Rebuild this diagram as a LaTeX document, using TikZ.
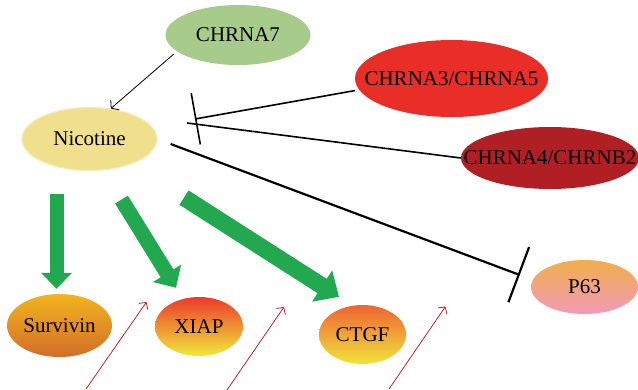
\documentclass[tikz,border=0pt]{standalone}
\usepackage{fontspec}
\setmainfont{Liberation Serif}
\usetikzlibrary{shapes.geometric, arrows.meta}
\definecolor{c7}{HTML}{A6CB8B}
\definecolor{cnic}{HTML}{F0DF8C}
\definecolor{c35}{HTML}{E92D27}
\definecolor{c4b2}{HTML}{B01F24}
\definecolor{cgrow}{HTML}{22A84F}
\definecolor{cred}{HTML}{B5252D}
\definecolor{survtop}{HTML}{F2B41F}
\definecolor{survbot}{HTML}{D26E28}
\definecolor{xtop}{HTML}{EC3A2A}
\definecolor{xmid}{HTML}{F29A30}
\definecolor{xbot}{HTML}{F2E83A}
\definecolor{ctop}{HTML}{EE6432}
\definecolor{cmid}{HTML}{F0DA3A}
\definecolor{cbot}{HTML}{F0E43C}
\definecolor{ptop}{HTML}{F0AE4C}
\definecolor{pbot}{HTML}{F29AB6}
\newcommand{\gname}[1]{\makebox[0pt]{#1}}
\tikzstyle{gene} = [ellipse, inner sep=0pt, text=black, font=\fontsize{21pt}{25pt}\selectfont]
\tikzstyle{actarrow} = [line width=0.8pt, -{Straight Barb[length=5pt,width=13pt]}]
\tikzstyle{inhibit} = [line width=1.6pt]
\tikzstyle{upreg} = [cgrow, line width=15pt, -{Triangle[width=32pt,length=17pt]}]
\tikzstyle{redarrow} = [cred, line width=0.8pt, -{Straight Barb[length=5pt,width=11pt]}]

\begin{document}
\begin{tikzpicture}[x=1pt, y=-1pt]
        \useasboundingbox (0,0) rectangle (638,389);
        \node (chrna7) [gene, fill=c7, minimum width=145pt, minimum height=60pt] at (238,35) {\gname{CHRNA7}};
        \node (nic) [gene, fill=cnic, draw=cnic!60!white, line width=1.2pt, minimum width=135pt, minimum height=63pt] at (89.5,139) {\gname{Nicotine}};
        \node (chrna35) [gene, fill=c35, minimum width=193pt, minimum height=77pt] at (451.5,78.5) {\gname{CHRNA3/CHRNA5}};
        \node (chrna4b2) [gene, fill=c4b2, minimum width=178pt, minimum height=62pt] at (550,158) {\gname{CHRNA4/CHRNB2}};
        \node (surv) [gene, top color=survtop, bottom color=survbot, minimum width=105pt, minimum height=63pt] at (59.5,325.5) {\gname{Survivin}};
        \node (xiap) [gene, top color=xtop, middle color=xmid, bottom color=xbot, minimum width=88pt, minimum height=59pt] at (199,326.5) {\gname{XIAP}};
        \node (ctgf) [gene, top color=ctop, middle color=cmid, bottom color=cbot, minimum width=87pt, minimum height=59pt] at (362.5,334.5) {\gname{CTGF}};
        \node (p63) [gene, top color=ptop, bottom color=pbot, minimum width=107pt, minimum height=54pt] at (584.5,287) {\gname{P63}};
        \coordinate (blk) at (195,119);
        \coordinate (blk2) at (187,123);
        \draw [actarrow, shorten <=4pt] (chrna7.195) -- (nic.55);
        \draw [inhibit, -{Bar[width=52pt]}, shorten <=4pt] (chrna35.187) -- (blk);
        \draw [inhibit] (chrna4b2.west) -- (blk2);
        \draw [inhibit, line width=2.2pt, -{Bar[width=59pt]}] ([shift={(13,5)}]nic.east) -- ([shift={(-11,-12)}]p63.west);
        \draw [upreg, line width=14pt, -{Triangle[width=30pt,length=16pt]}] ([shift={(-33,23)}]nic.south) -- ([shift={(-3,-5)}]surv.north);
        \draw [upreg] ([shift={(32,28.5)}]nic.south) -- ([shift={(-23,-9)}]xiap.north);
        \draw [upreg, line width=17pt, -{Triangle[width=36pt,length=20pt]}] ([shift={(94.5,26.5)}]nic.south) -- ([shift={(-23.5,-8)}]ctgf.north);
        \coordinate (r1a) at (86,389);
        \coordinate (r1b) at (146.5,302);
        \coordinate (r2a) at (227,390);
        \coordinate (r2b) at (284,307);
        \coordinate (r3a) at (389,389);
        \coordinate (r3b) at (445.5,306.5);
        \draw [redarrow] (r1a) -- (r1b);
        \draw [redarrow] (r2a) -- (r2b);
        \draw [redarrow] (r3a) -- (r3b);
    \end{tikzpicture}
\end{document}
